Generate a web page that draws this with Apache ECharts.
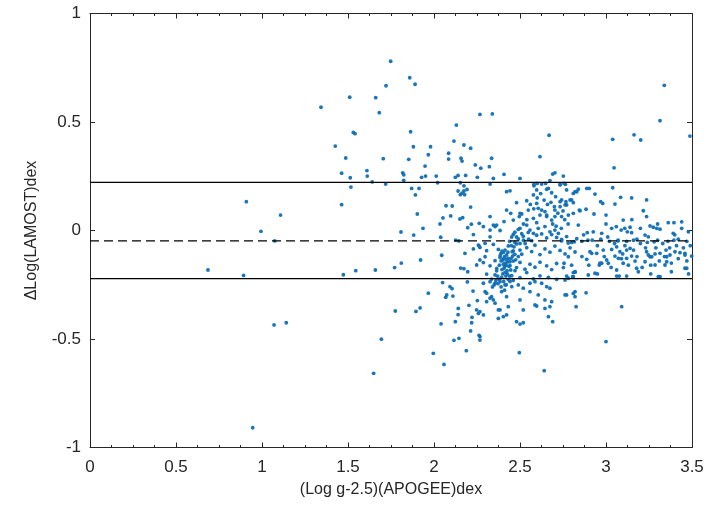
<!DOCTYPE html>
<html><head><meta charset="utf-8">
<script src="https://cdn.jsdelivr.net/npm/echarts@6/dist/echarts.min.js"></script>
<style>html,body{margin:0;padding:0;background:#fff}#c{width:713px;height:513px}</style>
</head><body><div id="c"></div>
<script>
// reference lines (dex)
const upperLevel = 0.222;
const meanLevel = -0.048;
const lowerLevel = -0.222;

// sparse points at low log g
const ptsSparse = [[0.686,-0.182],[0.893,-0.207],[0.909,0.133],[0.946,-0.909],[0.994,-0.004],[1.074,-0.048],[1.108,0.071],[1.07,-0.435],[1.141,-0.425],
[1.343,0.568],[1.51,0.614],[1.531,0.452],[1.541,0.446],[1.426,0.389],[1.487,0.334],[1.463,0.264],[1.513,0.243],[1.517,0.2],[1.463,0.119],[1.473,-0.204],[1.545,-0.185]];

// points between log g 1.6 and 2.27
const ptsMid = [[1.748,0.78],[1.721,0.667],[1.859,0.704],[1.89,0.674],[1.661,0.612],[1.682,0.543],[1.864,0.455],[2.267,0.535],[2.13,0.486],[1.88,0.386],[1.98,0.386],[1.705,0.331],[1.853,0.328],[1.967,0.349],[1.948,0.297],[2.116,0.412],[2.085,0.356],[2.085,0.329],[2.174,0.394],[2.213,0.379],[2.157,0.333],[2.163,0.32],[2.24,0.302],[1.61,0.276],[1.612,0.251],[1.818,0.266],[1.824,0.257],[1.928,0.245],[1.951,0.251],[2.013,0.251],[2.124,0.245],[2.14,0.254],[2.184,0.254],[2.252,0.245],[1.641,0.224],[1.719,0.214],[1.824,0.231],[2.021,0.22],[1.87,0.194],[1.913,0.194],[1.892,0.164],[2.153,0.22],[2.174,0.206],[2.192,0.189],[2.174,0.182],[2.163,0.172],[2.153,0.165],[2.178,0.165],[2.14,0.182],[2.07,0.114],[2.106,0.113],[2.213,0.108],[1.903,0.076],[2.052,0.058],[2.035,0.03],[2.097,0.067],[2.151,0.053],[2.167,0.059],[2.196,0.013],[2.217,0.029],[2.229,-0.019],[2.263,0.033],[1.936,0.01],[1.808,-0.007],[1.882,-0.021],[2.039,-0.031],[2.126,-0.044],[2.144,-0.048],[2.229,-0.085],[2.262,-0.071],[2.18,-0.105],[2.045,-0.114],[1.922,-0.136],[1.81,-0.15],[1.771,-0.171],[1.659,-0.182],[2.155,-0.173],[2.174,-0.176],[2.196,-0.19],[2.194,-0.237],[2.05,-0.24],[2.093,-0.259],[2.105,-0.268],[2.227,-0.279],[2.074,-0.297],[2.068,-0.308],[2.11,-0.302],[1.967,-0.289],[2.252,-0.323],[2.203,-0.345],[2.141,-0.359],[2.14,-0.388],[1.919,-0.357],[1.895,-0.373],[1.775,-0.371],[2.221,-0.4],[2.219,-0.425],[2.041,-0.43],[2.124,-0.42],[2.213,-0.463],[2.262,-0.483],[2.145,-0.497],[2.116,-0.506],[2.188,-0.554],[1.996,-0.566],[2.058,-0.617],[1.694,-0.501],[1.649,-0.658]];

// upper part of main clump (log g 2.27 - 2.85)
const ptsClumpUpper = [[2.339,0.537],[2.669,0.439],[2.616,0.34],[2.335,0.333],[2.322,0.294],[2.272,0.287],[2.407,0.259],[2.345,0.24],[2.5,0.24],[2.326,0.214],[2.581,0.206],[2.626,0.214],[2.674,0.23],[2.69,0.26],[2.703,0.266],[2.665,0.194],[2.752,0.251],
[2.581,0.213],[2.6,0.217],[2.649,0.217],[2.733,0.214],[2.764,0.213],[2.81,0.171],[2.83,0.178],[2.422,0.179],[2.442,0.183],[2.597,0.187],[2.655,0.19],[2.684,0.174],
[2.707,0.156],[2.742,0.141],[2.767,0.133],[2.48,0.128],[2.539,0.137],[2.597,0.125],[2.578,0.164],
[2.422,0.094],[2.446,0.079],[2.5,0.079],[2.548,0.094],[2.606,0.102],[2.626,0.094],[2.645,0.087],[2.655,0.071],[2.703,0.094],[2.733,0.11],[2.771,0.118],[2.8,0.141],
[2.742,0.064],[2.781,0.071],[2.81,0.079],
[2.461,0.048],[2.496,0.064],[2.407,0.041],[2.51,0.076],[2.578,0.056],[2.597,0.036],[2.616,0.071],[2.655,0.064],[2.684,0.048],[2.703,0.064],[2.355,0.018],
[2.364,0.025],[2.326,0.064],[2.384,0.0],
[2.5,0.01],[2.539,0.025],[2.558,0.002],[2.578,-0.013],[2.606,0.01],[2.645,0.018],[2.674,-0.006],[2.703,0.002],[2.723,-0.013],
[2.6,0.15],[2.62,0.17],[2.64,0.14],[2.66,0.12],[2.68,0.13],[2.7,0.11],[2.72,0.08],[2.75,0.09],[2.76,0.05],[2.78,0.03],[2.58,0.1],[2.56,0.12],[2.54,0.05],[2.52,0.03],[2.69,0.03],[2.71,0.02],[2.74,0.01]];

// dense core of main clump
const ptsClumpCore = [[2.461,-0.018],[2.49,-0.039],[2.519,-0.026],[2.548,-0.009],[2.568,-0.047],[2.597,-0.022],[2.626,-0.016],[2.655,-0.034],[2.684,-0.019],[2.713,-0.032],[2.742,-0.041],[2.771,-0.028],[2.8,-0.055],[2.83,-0.038],
[2.267,-0.078],[2.306,-0.093],[2.345,-0.064],[2.374,-0.087],[2.403,-0.101],[2.432,-0.071],[2.461,-0.094],[2.48,-0.062],[2.51,-0.109],[2.539,-0.079],[2.568,-0.097],[2.587,-0.068],[2.616,-0.111],[2.645,-0.085],[2.674,-0.1],[2.703,-0.072],[2.733,-0.092],[2.762,-0.108],[2.791,-0.08],[2.82,-0.099],
[2.287,-0.148],[2.326,-0.163],[2.355,-0.139],[2.384,-0.124],[2.403,-0.155],[2.422,-0.133],[2.442,-0.162],[2.461,-0.141],[2.48,-0.171],[2.5,-0.147],[2.529,-0.178],[2.558,-0.155],[2.587,-0.169],[2.616,-0.146],[2.655,-0.163],[2.684,-0.18],[2.713,-0.152],[2.752,-0.171],[2.8,-0.16],
[2.306,-0.201],[2.335,-0.224],[2.364,-0.186],[2.393,-0.216],[2.413,-0.193],[2.432,-0.226],[2.452,-0.208],[2.471,-0.185],[2.5,-0.217],[2.539,-0.194],[2.578,-0.223],[2.616,-0.209],[2.665,-0.216],[2.713,-0.225],[2.771,-0.21],[2.82,-0.192],
[2.413,-0.09],[2.422,-0.113],[2.432,-0.128],[2.442,-0.144],[2.407,-0.174],[2.419,-0.159],[2.446,-0.182],[2.426,-0.2],[2.4,-0.136],[2.457,-0.118],
[2.39,-0.105],[2.41,-0.12],[2.43,-0.1],[2.45,-0.07],[2.44,-0.05],[2.47,-0.055],[2.48,-0.03],[2.5,-0.06],[2.52,-0.045],[2.38,-0.16],[2.395,-0.18],[2.37,-0.21],[2.36,-0.23],[2.35,-0.25],[2.34,-0.26],[2.405,-0.235],[2.42,-0.25],[2.46,-0.23],[2.49,-0.12],[2.47,-0.11],[2.5,-0.09],[2.53,-0.06],[2.55,-0.04],[2.44,-0.21],[2.415,-0.15],[2.39,-0.14],
[2.385,-0.115],[2.395,-0.095],[2.405,-0.13],[2.412,-0.165],[2.425,-0.185],[2.435,-0.165],[2.428,-0.145],[2.448,-0.128],[2.455,-0.098],[2.465,-0.075],[2.475,-0.135],[2.442,-0.235],[2.418,-0.21],[2.4,-0.2],[2.38,-0.225],[2.372,-0.245],[2.39,-0.26],[2.41,-0.275],[2.365,-0.175],[2.355,-0.205],[2.452,-0.03],[2.47,-0.008],[2.49,0.005],[2.51,-0.015],
[2.267,-0.136],[2.297,-0.121],[2.248,-0.159],[2.326,-0.029],[2.297,-0.059],[2.258,-0.067],[2.326,0.002],[2.345,0.025],[2.287,0.018]];

// lower tail of main clump
const ptsClumpLower = [[2.287,-0.243],[2.326,-0.236],[2.355,-0.243],[2.384,-0.236],[2.413,-0.251],[2.452,-0.259],[2.49,-0.251],[2.519,-0.266],[2.558,-0.243],[2.587,-0.236],[2.626,-0.243],[2.655,-0.259],[2.674,-0.266],
[2.297,-0.282],[2.335,-0.305],[2.345,-0.32],[2.306,-0.328],[2.393,-0.282],[2.422,-0.305],[2.5,-0.32],[2.558,-0.282],[2.606,-0.297],[2.645,-0.32],[2.684,-0.328],
[2.267,-0.374],[2.287,-0.389],[2.374,-0.366],[2.403,-0.397],[2.374,-0.405],[2.422,-0.389],[2.519,-0.366],[2.587,-0.343],[2.645,-0.359],[2.674,-0.351],[2.665,-0.397],[2.48,-0.42],[2.5,-0.431],[2.519,-0.425],[2.69,-0.42],[2.267,-0.489],[2.267,-0.505],[2.496,-0.563],[2.641,-0.646],
[2.306,-0.289],[2.326,-0.312],[2.355,-0.335],[2.248,-0.366],[2.258,-0.382],[2.384,-0.366],[2.432,-0.351],[2.597,-0.348],[2.762,-0.297],[2.81,-0.29],[2.82,-0.19],[2.81,-0.213]];

// high log g region (2.75 - 3.5)
const ptsRight = [[3.314,0.506],[3.039,0.42],[3.163,0.441],[3.202,0.417],[3.488,0.435],[3.047,0.289],[3.339,0.669],
[3.039,0.197],[2.888,0.194],[2.903,0.194],[3.085,0.153],[3.149,0.15],[3.236,0.141],[2.936,0.168],[2.969,0.133],[2.981,0.125],[2.845,0.094],[2.884,0.098],[3.052,0.122],[2.93,0.076],[3.0,0.071],[3.217,0.091],[3.236,0.064],[3.1,0.048],
[3.033,0.01],[3.06,0.018],[3.088,0.002],[3.109,0.01],[3.124,-0.006],[3.14,0.015],[3.149,-0.01],[2.839,0.025],[3.256,0.021],[3.275,0.015],[3.295,0.01],[3.314,0.006],[3.362,0.036],[3.395,0.036],[3.44,0.01],[3.479,-0.006],[2.891,-0.01],[2.926,-0.006],[2.975,-0.013],[3.227,-0.021],[3.246,-0.029],
[2.86,-0.05],[2.92,-0.045],[2.97,-0.04],[3.02,-0.05],[3.07,-0.045],[3.12,-0.05],[3.18,-0.04],[3.24,-0.055],[3.3,-0.045],[3.36,-0.05],[3.42,-0.04],[3.47,-0.05],
[2.907,-0.098],[2.946,-0.105],[2.984,-0.09],[3.033,-0.087],[3.062,-0.075],[3.081,-0.098],[3.097,-0.108],[3.12,-0.09],[3.14,-0.082],
[2.888,-0.133],[2.965,-0.151],[3.004,-0.136],[3.052,-0.118],[3.072,-0.128],[3.1,-0.151],[3.149,-0.118],
[3.236,-0.098],[3.256,-0.121],[3.285,-0.108],[3.314,-0.105],[3.349,-0.09],[3.372,-0.113],[3.401,-0.098],[3.43,-0.102],[3.459,-0.105],
[3.178,-0.174],[3.188,-0.19],[3.062,-0.182],[3.077,-0.21],[2.936,-0.197],[2.897,-0.205],[3.304,-0.213],[3.314,-0.213],[3.343,-0.159],[3.353,-0.144],[3.459,-0.174],
[2.82,-0.282],[2.82,-0.305],[2.884,-0.287],[2.826,-0.351],[3.091,-0.351],[3.0,-0.512],[2.771,-0.297],
[2.762,-0.228],[2.781,-0.22],[2.81,-0.194],[2.806,-0.213],[3.062,-0.21],[3.469,-0.174],
[2.781,-0.121],[2.756,-0.151],[2.917,-0.105],[2.961,-0.159],[2.975,-0.151],[3.013,-0.151],[3.12,-0.128],[3.169,-0.141],[3.227,-0.144],[3.246,-0.113],[3.266,-0.121],[3.285,-0.159],[3.353,-0.121],[3.459,-0.113],[3.498,-0.118],
[2.733,0.21],[2.756,0.217],[2.771,0.187],[2.82,0.179],[2.839,0.19],[2.791,0.141],[2.81,0.128],[2.762,0.118],[2.733,0.133],[2.849,0.091],[3.391,-0.013],
[2.742,-0.048],[2.78,-0.058],[2.816,-0.052],[2.895,-0.045],[3.07,-0.048],[3.16,-0.045],[3.28,-0.052],[3.395,-0.045],
[2.86,-0.12],[2.87,-0.02],[2.9,-0.16],[2.95,-0.07],[2.99,-0.12],[3.01,-0.03],[3.03,-0.17],[3.05,-0.06],[3.09,-0.13],[3.11,-0.07],[3.13,-0.16],[3.16,-0.09],[3.18,-0.12],[3.2,-0.06],[3.21,-0.17],[3.23,-0.08],[3.26,-0.16],[3.29,-0.08],[3.31,-0.14],[3.33,-0.06],[3.34,-0.12],[3.37,-0.08],[3.38,-0.15],[3.41,-0.07],[3.42,-0.13],[3.45,-0.08],[3.47,-0.14],[3.49,-0.07],[3.44,0.04],[3.4,-0.02],[3.3,0.03],[3.2,0.01],[3.15,0.05],[3.0,0.03],[2.95,-0.2],[3.12,-0.21],[3.26,-0.2],[3.38,-0.19],[3.48,-0.2]];

const allPts = [].concat(ptsSparse, ptsMid, ptsClumpUpper, ptsClumpCore, ptsClumpLower, ptsRight);

const axisColor = '#262626';
const fontFam = '"Liberation Sans", Arial, Helvetica, sans-serif';
const xMin = 0, xMax = 3.5, yMin = -1, yMax = 1;
const xMajor = 0.5, xMinor = 0.125, yMajor = 0.5;

function xAx(pos, labels, step, tickLen, showLine) {
  return {
    type: 'value', position: pos, min: xMin, max: xMax, interval: step,
    axisLine: { show: showLine, onZero: false, lineStyle: { color: axisColor, width: 1 } },
    axisTick: { show: true, inside: true, length: tickLen, lineStyle: { color: axisColor } },
    splitLine: { show: false },
    axisLabel: { show: labels, color: axisColor, fontSize: 17, margin: 11, fontFamily: fontFam },
    name: labels ? '(Log g-2.5)(APOGEE)dex' : '',
    nameLocation: 'middle', nameGap: 34,
    nameTextStyle: { color: axisColor, fontSize: 16, fontFamily: fontFam }
  };
}
function yAx(pos, labels) {
  return {
    type: 'value', position: pos, min: yMin, max: yMax, interval: yMajor,
    axisLine: { show: true, onZero: false, lineStyle: { color: axisColor, width: 1 } },
    axisTick: { show: true, inside: true, length: 5, lineStyle: { color: axisColor } },
    splitLine: { show: false },
    axisLabel: { show: labels, color: axisColor, fontSize: 17, margin: 9, fontFamily: fontFam },
    name: labels ? 'ΔLog(LAMOST)dex' : '',
    nameLocation: 'middle', nameGap: 50, nameRotate: 90,
    nameTextStyle: { color: axisColor, fontSize: 16, fontFamily: fontFam }
  };
}
function hLine(level, dashed) {
  return {
    type: 'line', xAxisIndex: 0, yAxisIndex: 0, symbol: 'none', silent: true,
    data: [[xMin, level], [xMax, level]],
    lineStyle: { color: '#000', width: 1.2, type: dashed ? [9, 5] : 'solid' },
    z: 3
  };
}

const chart = echarts.init(document.getElementById('c'), null, { renderer: 'canvas' });
chart.setOption({
  animation: false,
  backgroundColor: '#fff',
  grid: { left: 90, right: 21, top: 13.5, bottom: 65.5, containLabel: false },
  xAxis: [
    xAx('bottom', true, xMajor, 5, true),
    xAx('top', false, xMajor, 5, true),
    xAx('bottom', false, xMinor, 2.5, false),
    xAx('top', false, xMinor, 2.5, false)
  ],
  yAxis: [yAx('left', true), yAx('right', false)],
  series: [
    {
      type: 'scatter', xAxisIndex: 0, yAxisIndex: 0,
      data: allPts, symbolSize: 3.8,
      itemStyle: { color: '#0f6fb5', opacity: 0.95 },
      z: 2
    },
    hLine(upperLevel, false),
    hLine(meanLevel, true),
    hLine(lowerLevel, false)
  ]
});
</script>
</body></html>
